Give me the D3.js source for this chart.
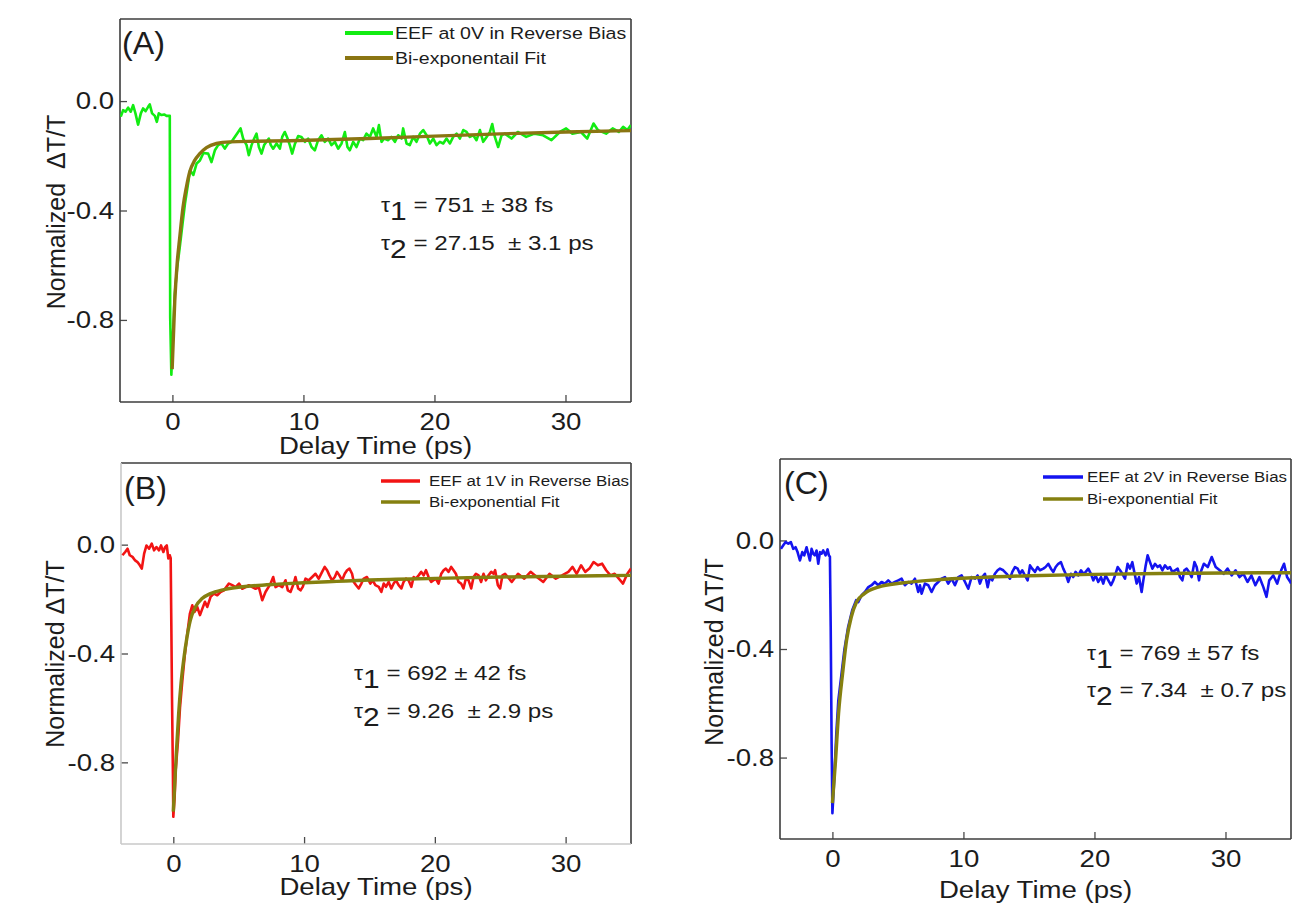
<!DOCTYPE html>
<html>
<head>
<meta charset="utf-8">
<script src="https://cdn.jsdelivr.net/npm/d3@7/dist/d3.min.js"></script>
<style>
  body { margin: 0; background: #fff; }
  text { font-family: Arial, "Liberation Sans", sans-serif; fill: #1c1c1c; }
</style>
</head>
<body>
<div id="viz"></div>
<script>
// AXES (shared by the three panels)
var xDomain = [-4, 35];
var yDomain = [-1.1, 0.3];
var xTicks = [0, 10, 20, 30];
var yTicks = [0.0, -0.4, -0.8];
var xTitle = "Delay Time (ps)";

// PANEL A - 0V reverse bias, [delay ps, dT/T]
var traceA = [[-3.94,-0.057],[-3.76,-0.033],[-3.58,-0.039],[-3.38,-0.024],[-3.18,-0.039],[-3.0,-0.015],[-2.82,-0.045],[-2.62,-0.086],[-2.41,-0.045],[-2.24,-0.027],[-2.05,-0.037],[-1.85,-0.021],[-1.73,-0.012],[-1.55,-0.045],[-1.34,-0.054],[-1.19,-0.076],[-1.04,-0.045],[-0.83,-0.051],[-0.63,-0.049],[-0.45,-0.054],[-0.2,-0.054],[-0.17,-0.79],[-0.08,-1.0],[0.0,-0.9],[0.18,-0.705],[0.36,-0.61],[0.56,-0.535],[0.77,-0.45],[0.96,-0.375],[1.2,-0.30],[1.35,-0.253],[1.6,-0.27],[1.85,-0.228],[2.1,-0.217],[2.37,-0.19],[2.73,-0.192],[2.98,-0.223],[3.24,-0.18],[3.49,-0.161],[3.75,-0.155],[4.0,-0.174],[4.25,-0.155],[4.51,-0.149],[4.76,-0.131],[5.02,-0.113],[5.2,-0.100],[5.4,-0.137],[5.66,-0.161],[5.83,-0.198],[6.04,-0.161],[6.24,-0.137],[6.42,-0.119],[6.6,-0.168],[6.8,-0.192],[7.0,-0.161],[7.18,-0.149],[7.36,-0.137],[7.51,-0.161],[7.69,-0.174],[7.95,-0.155],[8.2,-0.174],[8.38,-0.131],[8.58,-0.113],[8.79,-0.137],[8.96,-0.161],[9.14,-0.192],[9.34,-0.158],[9.6,-0.128],[9.85,-0.131],[10.11,-0.149],[10.36,-0.137],[10.62,-0.168],[10.87,-0.180],[11.12,-0.143],[11.38,-0.125],[11.63,-0.149],[11.89,-0.137],[12.14,-0.161],[12.40,-0.149],[12.65,-0.174],[12.91,-0.155],[13.16,-0.113],[13.36,-0.168],[13.54,-0.180],[13.80,-0.149],[14.05,-0.168],[14.31,-0.137],[14.56,-0.143],[14.81,-0.119],[15.07,-0.131],[15.32,-0.100],[15.58,-0.131],[15.76,-0.088],[15.96,-0.149],[16.16,-0.137],[16.47,-0.143],[16.72,-0.131],[16.98,-0.149],[17.23,-0.125],[17.49,-0.137],[17.61,-0.100],[17.87,-0.155],[18.12,-0.161],[18.38,-0.131],[18.63,-0.149],[18.89,-0.119],[19.14,-0.106],[19.40,-0.125],[19.65,-0.155],[19.91,-0.137],[20.16,-0.161],[20.41,-0.149],[20.67,-0.155],[20.92,-0.137],[21.18,-0.155],[21.43,-0.131],[21.69,-0.119],[21.94,-0.137],[22.2,-0.106],[22.45,-0.113],[22.7,-0.131],[22.96,-0.125],[23.21,-0.143],[23.47,-0.106],[23.72,-0.149],[23.98,-0.131],[24.23,-0.113],[24.41,-0.084],[24.61,-0.131],[24.86,-0.168],[25.12,-0.125],[25.37,-0.119],[25.88,-0.137],[26.36,-0.113],[27.0,-0.131],[27.64,-0.119],[28.29,-0.125],[28.93,-0.143],[29.57,-0.113],[30.05,-0.100],[30.53,-0.119],[31.18,-0.113],[31.66,-0.137],[32.14,-0.082],[32.47,-0.106],[33.1,-0.119],[33.6,-0.100],[34.07,-0.113],[34.4,-0.094],[34.72,-0.106],[35.0,-0.088]];
var fitA = [[-0.02,-0.98],[0.18,-0.73],[0.36,-0.595],[0.56,-0.498],[0.81,-0.388],[1.07,-0.314],[1.32,-0.259],[1.7,-0.217],[2.09,-0.192],[2.6,-0.17],[3.36,-0.155],[4.38,-0.149],[6.4,-0.147],[9,-0.145],[15,-0.137],[20,-0.128],[25,-0.120],[30,-0.113],[35,-0.108]];

// PANEL B - 1V reverse bias
var traceB = [[-3.89,-0.039],[-3.68,-0.027],[-3.5,-0.015],[-3.33,-0.039],[-3.12,-0.045],[-2.92,-0.058],[-2.74,-0.064],[-2.56,-0.076],[-2.41,-0.088],[-2.23,-0.033],[-2.05,-0.003],[-1.85,-0.015],[-1.65,0.004],[-1.47,-0.021],[-1.29,-0.009],[-1.09,-0.021],[-0.94,-0.003],[-0.76,-0.027],[-0.63,-0.009],[-0.5,-0.003],[-0.38,-0.051],[-0.27,-0.039],[-0.2,-0.05],[-0.15,-0.3],[-0.1,-0.56],[-0.03,-0.84],[0.0,-1.0],[0.1,-0.93],[0.18,-0.83],[0.36,-0.72],[0.51,-0.6],[0.69,-0.5],[0.87,-0.41],[1.07,-0.327],[1.27,-0.253],[1.45,-0.223],[1.63,-0.247],[1.83,-0.229],[2.04,-0.259],[2.22,-0.235],[2.42,-0.21],[2.6,-0.229],[2.85,-0.192],[3.1,-0.18],[3.36,-0.186],[3.61,-0.174],[3.87,-0.168],[4.25,-0.143],[4.51,-0.149],[4.76,-0.156],[5.02,-0.143],[5.27,-0.162],[5.53,-0.156],[5.78,-0.149],[6.04,-0.156],[6.29,-0.162],[6.54,-0.156],[6.8,-0.204],[7.05,-0.174],[7.44,-0.143],[7.64,-0.119],[7.82,-0.156],[8.07,-0.149],[8.33,-0.156],[8.58,-0.131],[8.76,-0.168],[8.96,-0.174],[9.21,-0.143],[9.34,-0.119],[9.55,-0.161],[9.73,-0.168],[9.9,-0.155],[10.11,-0.125],[10.36,-0.131],[10.62,-0.119],[10.87,-0.107],[11.12,-0.125],[11.38,-0.100],[11.58,-0.082],[11.76,-0.094],[11.94,-0.113],[12.14,-0.131],[12.35,-0.119],[12.52,-0.100],[12.70,-0.113],[12.91,-0.131],[13.11,-0.107],[13.29,-0.094],[13.47,-0.088],[13.67,-0.107],[13.80,-0.137],[13.98,-0.149],[14.18,-0.161],[14.38,-0.143],[14.56,-0.125],[14.81,-0.119],[15.07,-0.143],[15.25,-0.131],[15.45,-0.149],[15.71,-0.155],[15.91,-0.174],[16.09,-0.143],[16.26,-0.155],[16.47,-0.137],[16.67,-0.161],[16.85,-0.143],[17.03,-0.131],[17.23,-0.149],[17.44,-0.161],[17.61,-0.137],[17.79,-0.125],[17.99,-0.131],[18.20,-0.155],[18.38,-0.119],[18.55,-0.125],[18.76,-0.113],[18.96,-0.100],[19.14,-0.113],[19.32,-0.094],[19.52,-0.119],[19.72,-0.137],[19.90,-0.131],[20.08,-0.125],[20.28,-0.143],[20.49,-0.107],[20.67,-0.094],[20.84,-0.088],[21.05,-0.100],[21.25,-0.082],[21.43,-0.094],[21.61,-0.107],[21.81,-0.137],[22.01,-0.143],[22.19,-0.161],[22.37,-0.125],[22.58,-0.131],[22.78,-0.161],[22.96,-0.119],[23.14,-0.107],[23.34,-0.113],[23.54,-0.137],[23.72,-0.107],[23.90,-0.131],[24.10,-0.113],[24.31,-0.100],[24.49,-0.107],[24.61,-0.094],[24.82,-0.149],[24.99,-0.161],[25.17,-0.113],[25.37,-0.107],[25.88,-0.137],[26.36,-0.107],[26.84,-0.125],[27.32,-0.100],[27.8,-0.119],[28.29,-0.137],[28.77,-0.107],[29.25,-0.125],[29.73,-0.113],[30.21,-0.100],[30.53,-0.082],[30.85,-0.107],[31.18,-0.076],[31.5,-0.100],[31.82,-0.088],[32.14,-0.064],[32.47,-0.076],[32.79,-0.070],[33.1,-0.094],[33.43,-0.113],[33.75,-0.107],[34.07,-0.125],[34.39,-0.143],[34.72,-0.107],[35.0,-0.088]];
var fitB = [[0.0,-0.981],[0.23,-0.767],[0.41,-0.62],[0.59,-0.51],[0.79,-0.425],[1.05,-0.339],[1.3,-0.278],[1.69,-0.229],[2.2,-0.198],[2.84,-0.18],[3.87,-0.165],[5.9,-0.152],[8,-0.145],[10,-0.14],[12.5,-0.135],[15,-0.13],[20,-0.124],[25,-0.119],[30,-0.116],[35,-0.113]];

// PANEL C - 2V reverse bias
var traceC = [[-3.93,-0.031],[-3.75,-0.018],[-3.57,-0.006],[-3.37,-0.012],[-3.17,-0.006],[-2.99,-0.031],[-2.81,-0.025],[-2.66,-0.043],[-2.48,-0.074],[-2.3,-0.043],[-2.15,-0.055],[-1.97,-0.025],[-1.85,-0.049],[-1.72,-0.074],[-1.59,-0.031],[-1.46,-0.049],[-1.34,-0.055],[-1.21,-0.037],[-1.08,-0.086],[-0.95,-0.043],[-0.83,-0.049],[-0.7,-0.037],[-0.52,-0.055],[-0.37,-0.033],[-0.27,-0.055],[-0.19,-0.06],[-0.13,-0.32],[-0.06,-0.75],[0.0,-1.005],[0.15,-0.87],[0.3,-0.71],[0.45,-0.59],[0.7,-0.49],[0.91,-0.404],[1.2,-0.319],[1.51,-0.257],[1.81,-0.22],[1.97,-0.227],[2.23,-0.202],[2.48,-0.19],[2.74,-0.172],[2.99,-0.165],[3.24,-0.153],[3.5,-0.165],[3.75,-0.153],[4.01,-0.159],[4.26,-0.147],[4.52,-0.159],[4.77,-0.153],[5.03,-0.147],[5.28,-0.141],[5.53,-0.165],[5.79,-0.153],[6.04,-0.159],[6.3,-0.141],[6.55,-0.19],[6.68,-0.165],[6.81,-0.196],[7.06,-0.159],[7.32,-0.165],[7.57,-0.19],[7.82,-0.165],[8.08,-0.153],[8.33,-0.141],[8.59,-0.135],[8.84,-0.159],[9.1,-0.141],[9.35,-0.165],[9.61,-0.135],[9.86,-0.129],[10.12,-0.153],[10.37,-0.178],[10.62,-0.135],[10.88,-0.141],[11.08,-0.129],[11.26,-0.159],[11.44,-0.135],[11.64,-0.123],[11.85,-0.172],[12.02,-0.135],[12.2,-0.147],[12.4,-0.123],[12.61,-0.110],[12.79,-0.104],[13.04,-0.110],[13.3,-0.123],[13.55,-0.141],[13.73,-0.116],[13.93,-0.098],[14.14,-0.104],[14.31,-0.123],[14.49,-0.110],[14.69,-0.129],[14.9,-0.147],[15.08,-0.092],[15.25,-0.104],[15.46,-0.116],[15.66,-0.098],[15.84,-0.110],[16.1,-0.104],[16.27,-0.098],[16.48,-0.086],[16.68,-0.104],[16.86,-0.116],[17.04,-0.098],[17.24,-0.086],[17.44,-0.080],[17.62,-0.104],[17.8,-0.123],[18.0,-0.153],[18.2,-0.123],[18.38,-0.135],[18.56,-0.116],[18.77,-0.129],[18.97,-0.110],[19.15,-0.123],[19.33,-0.116],[19.53,-0.104],[19.73,-0.123],[19.91,-0.147],[20.09,-0.129],[20.29,-0.153],[20.5,-0.135],[20.67,-0.159],[20.85,-0.129],[21.06,-0.147],[21.26,-0.165],[21.44,-0.147],[21.61,-0.123],[21.77,-0.098],[21.95,-0.110],[22.13,-0.123],[22.33,-0.141],[22.53,-0.086],[22.71,-0.104],[22.89,-0.080],[23.04,-0.116],[23.22,-0.159],[23.4,-0.135],[23.6,-0.190],[23.73,-0.147],[23.91,-0.092],[24.06,-0.055],[24.24,-0.080],[24.42,-0.104],[24.62,-0.086],[24.82,-0.098],[25.0,-0.092],[25.18,-0.110],[25.38,-0.092],[25.59,-0.104],[25.76,-0.098],[25.94,-0.116],[26.15,-0.110],[26.35,-0.104],[26.53,-0.135],[26.71,-0.147],[26.86,-0.110],[27.04,-0.104],[27.22,-0.116],[27.42,-0.135],[27.63,-0.080],[27.8,-0.098],[27.98,-0.147],[28.06,-0.123],[28.35,-0.086],[28.65,-0.098],[28.95,-0.061],[29.25,-0.098],[29.56,-0.110],[29.86,-0.123],[30.16,-0.104],[30.47,-0.129],[30.77,-0.110],[31.07,-0.135],[31.37,-0.123],[31.68,-0.153],[31.98,-0.129],[32.28,-0.165],[32.59,-0.135],[32.89,-0.172],[33.13,-0.208],[33.34,-0.147],[33.65,-0.129],[33.95,-0.159],[34.25,-0.110],[34.47,-0.086],[34.7,-0.135],[34.95,-0.153],[35.0,-0.159]];
var fitC = [[0,-0.968],[0.24,-0.81],[0.47,-0.637],[0.78,-0.49],[1.08,-0.368],[1.44,-0.282],[1.84,-0.227],[2.44,-0.196],[3.5,-0.172],[5.3,-0.157],[8,-0.145],[11,-0.137],[15,-0.13],[20,-0.125],[25,-0.122],[30,-0.12],[35,-0.119]];

// LABELS
var panelNames = ["(A)", "(B)", "(C)"];
var traceNames = ["EEF at 0V in Reverse Bias", "EEF at 1V in Reverse Bias", "EEF at 2V in Reverse Bias"];
var fitNames = ["Bi-exponentail Fit", "Bi-exponential Fit", "Bi-exponential Fit"];
var yTitles = ["Normalized  \u0394T/T", "Normalized \u0394T/T", "Normalized \u0394T/T"];
var tau1 = ["751 \u00b1 38 fs", "692 \u00b1 42 fs", "769 \u00b1 57 fs"];
var tau2 = ["27.15  \u00b1 3.1 ps", "9.26  \u00b1 2.9 ps", "7.34  \u00b1 0.7 ps"];

// LAYOUT (pixel boxes, text spots, colours) per panel
var panels = [
  { left: 120, top: 19, w: 511, h: 383, trace: traceA, fit: fitA,
    color: "#12ec12", fitColor: "#8a7512", faintLeftBottom: false,
    legend: { x1: 345, x2: 393, tx: 395, y: 33, dy: 25, size: 17, lw: 4 },
    label: { x: 122, y: 43 }, yTitle: { x: 56, y: 212 },
    xTitleY: 446, tau: { x: 381, y: 212, dy: 38 } },
  { left: 121, top: 463, w: 510, h: 381, trace: traceB, fit: fitB,
    color: "#f21414", fitColor: "#858010", faintLeftBottom: true,
    legend: { x1: 381, x2: 420, tx: 429, y: 481, dy: 21, size: 14.7, lw: 3.5 },
    label: { x: 124, y: 488 }, yTitle: { x: 55, y: 654 },
    xTitleY: 887, tau: { x: 354, y: 680, dy: 38 } },
  { left: 780, top: 459, w: 511, h: 380, trace: traceC, fit: fitC,
    color: "#1414f0", fitColor: "#858010", faintLeftBottom: false,
    legend: { x1: 1043, x2: 1083, tx: 1087, y: 477, dy: 22, size: 14.7, lw: 3.5 },
    label: { x: 784, y: 483 }, yTitle: { x: 714, y: 652 },
    xTitleY: 890, tau: { x: 1087, y: 660, dy: 37 } }
];

var SX = 1.15; // the source figure is stretched sideways a bit

var svg = d3.select("#viz").append("svg")
  .attr("width", 1301)
  .attr("height", 909);

// horizontal text with the sideways stretch
function stretchText(parent, x, y, size, anchor, sx) {
  return parent.append("text")
    .attr("transform", "translate(" + x + "," + y + ") scale(" + (sx || SX) + ",1)")
    .attr("font-size", size)
    .attr("text-anchor", anchor || "start")
    .style("white-space", "pre");
}

function drawPanel(p, i) {
  var x = d3.scaleLinear().domain(xDomain).range([0, p.w]);
  var y = d3.scaleLinear().domain(yDomain).range([p.h, 0]);

  var g = svg.append("g")
    .attr("transform", "translate(" + p.left + "," + p.top + ")");

  g.append("clipPath").attr("id", "clip" + i)
    .append("rect").attr("width", p.w).attr("height", p.h);

  // inward ticks
  var gx = g.append("g")
    .attr("transform", "translate(0," + p.h + ")")
    .call(d3.axisBottom(x).tickValues(xTicks).tickSizeInner(-7).tickSizeOuter(0)
      .tickPadding(10.5).tickFormat(d3.format("d")));
  var gy = g.append("g")
    .call(d3.axisLeft(y).tickValues(yTicks).tickSizeInner(-7).tickSizeOuter(0)
      .tickFormat(function(d) { return d.toFixed(1); }));
  [gx, gy].forEach(function(ax) {
    ax.select(".domain").remove();
    ax.selectAll("line").attr("stroke", "#4a4a4a").attr("stroke-width", 1.3);
    ax.selectAll("text").attr("font-size", 24).attr("fill", "#1c1c1c")
      .attr("transform", "scale(" + SX + ",1)");
  });
  gy.selectAll("text").attr("x", -6 / SX);

  // frame
  var dark = "#3c3c3c", faint = p.faintLeftBottom ? "#c9c9c9" : dark;
  var sides = [
    [0, 0, p.w, 0, dark], [p.w, 0, p.w, p.h, dark],
    [0, p.h, p.w, p.h, faint], [0, 0, 0, p.h, faint]
  ];
  g.selectAll(".side").data(sides).enter().append("line")
    .attr("x1", function(d) { return d[0]; })
    .attr("y1", function(d) { return d[1]; })
    .attr("x2", function(d) { return d[2]; })
    .attr("y2", function(d) { return d[3]; })
    .attr("stroke", function(d) { return d[4]; })
    .attr("stroke-width", 1.6);

  // data and fit
  var plot = g.append("g").attr("clip-path", "url(#clip" + i + ")");
  var raw = d3.line().x(function(d) { return x(d[0]); }).y(function(d) { return y(d[1]); });
  var smooth = d3.line().x(function(d) { return x(d[0]); }).y(function(d) { return y(d[1]); })
    .curve(d3.curveMonotoneX);
  plot.append("path").datum(p.trace)
    .attr("d", raw).attr("fill", "none")
    .attr("stroke", p.color).attr("stroke-width", 2.6).attr("stroke-linejoin", "round");
  plot.append("path").datum(p.fit)
    .attr("d", smooth).attr("fill", "none")
    .attr("stroke", p.fitColor).attr("stroke-width", 3.4).attr("stroke-linejoin", "round");

  // legend
  var L = p.legend;
  [[p.color, traceNames[i]], [p.fitColor, fitNames[i]]].forEach(function(item, k) {
    svg.append("line")
      .attr("x1", L.x1).attr("x2", L.x2)
      .attr("y1", L.y + k * L.dy).attr("y2", L.y + k * L.dy)
      .attr("stroke", item[0]).attr("stroke-width", L.lw);
    stretchText(svg, L.tx, L.y + k * L.dy, L.size).attr("dy", "0.35em").text(item[1]);
  });

  // panel letter
  stretchText(svg, p.label.x, p.label.y, 31, "start", 1.04).attr("dy", "0.35em").text(panelNames[i]);

  // axis titles
  stretchText(svg, p.left + p.w / 2, p.xTitleY, 24, "middle").attr("dy", "0.35em").text(xTitle);
  svg.append("text")
    .attr("transform", "translate(" + p.yTitle.x + "," + p.yTitle.y + ") rotate(-90)")
    .attr("font-size", 25)
    .attr("text-anchor", "middle")
    .attr("dy", "0.35em")
    .style("white-space", "pre")
    .text(yTitles[i]);

  // lifetimes
  [["1", tau1[i]], ["2", tau2[i]]].forEach(function(row, k) {
    var t = stretchText(svg, p.tau.x, p.tau.y + k * p.tau.dy, 21);
    t.append("tspan").attr("font-size", 20).text("\u03c4");
    t.append("tspan").attr("font-size", 26).attr("dy", 8).text(row[0]);
    t.append("tspan").attr("font-size", 21).attr("dy", -8).text(" = " + row[1]);
  });
}

panels.forEach(drawPanel);
</script>
</body>
</html>
